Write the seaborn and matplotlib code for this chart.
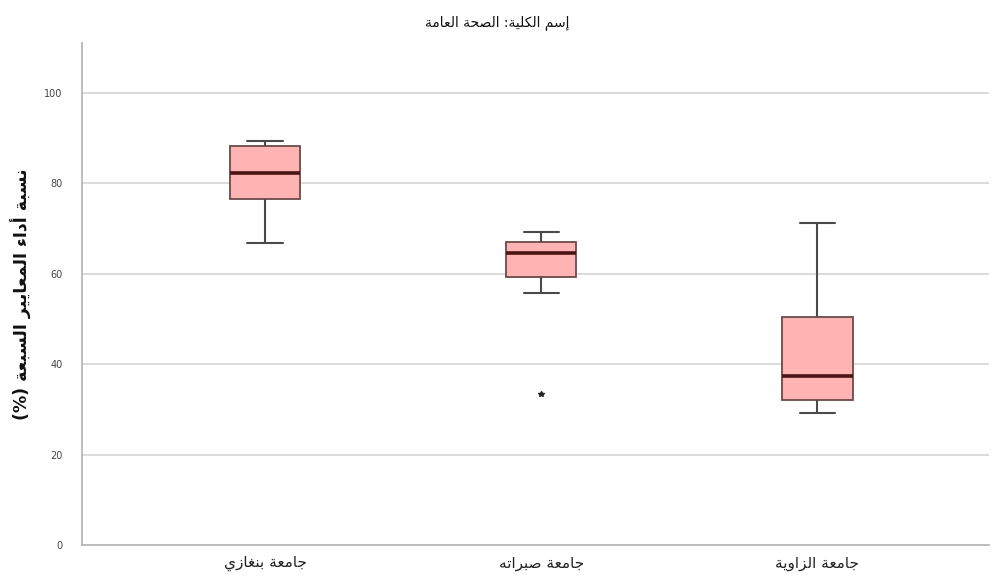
import unicodedata
import numpy as np
import pandas as pd
import matplotlib
matplotlib.use("Agg")
import matplotlib.pyplot as plt
import seaborn as sns

# ---------------- data ----------------
title_text = "إسم الكلية: الصحة العامة"
ylabel_text = "نسبة أداء المعايير السبعة (%)"
categories = ["جامعة بنغازي", "جامعة صبراته", "جامعة الزاوية"]
benghazi = [66.7, 76.5, 82.2, 88.3, 89.4]
sabratha = [33.4, 55.8, 59.3, 62.0, 64.6, 66.0, 67.0, 68.0, 69.2]
zawia = [29.2, 32.1, 37.5, 50.5, 71.3]
yticks = [0, 20, 40, 60, 80, 100]


# ------------- simple Arabic shaping (matplotlib has no bidi) -------------
def _form(c, kind):
    try:
        return unicodedata.lookup(unicodedata.name(c) + " " + kind + " FORM")
    except (KeyError, ValueError):
        return None


def _is_ar(c):
    return "\u0600" <= c <= "\u06FF"


def shape(text):
    out = []
    n = len(text)
    for i, c in enumerate(text):
        if not _is_ar(c):
            out.append(c)
            continue
        prev = text[i - 1] if i > 0 else ""
        nxt = text[i + 1] if i < n - 1 else ""
        jp = bool(prev) and _is_ar(prev) and _form(prev, "INITIAL") is not None and _form(c, "FINAL") is not None
        jn = bool(nxt) and _is_ar(nxt) and _form(c, "INITIAL") is not None and _form(nxt, "FINAL") is not None
        if jp and jn:
            f = _form(c, "MEDIAL")
        elif jp:
            f = _form(c, "FINAL")
        elif jn:
            f = _form(c, "INITIAL")
        else:
            f = _form(c, "ISOLATED")
        out.append(f if f else c)
    s = "".join(out)[::-1]
    s = s.translate(str.maketrans("()", ")("))
    return s


# ---------------- figure ----------------
sns.set_theme(style="white")
plt.rcParams["font.family"] = ["DejaVu Sans"]

labels = [shape(c) for c in categories]
df = pd.DataFrame({
    "group": [labels[0]] * len(benghazi) + [labels[1]] * len(sabratha) + [labels[2]] * len(zawia),
    "value": benghazi + sabratha + zawia,
})

fig = plt.figure(figsize=(9.94, 5.83), dpi=100)
ax = fig.add_axes([0.0825, 0.065, 0.912, 0.861])

ax.set_axisbelow(True)
for t in yticks[1:]:
    ax.axhline(t, color="#d4d4d4", lw=1.2, zorder=0)

sns.boxplot(
    data=df, x="group", y="value", order=labels, ax=ax,
    color="#ffb3b3", saturation=1, width=0.255, whis=1.5, linewidth=1.3,
    linecolor="#4a4a4a",
    medianprops=dict(color="#4a1414", linewidth=2.6),
    whiskerprops=dict(color="#4a4a4a", linewidth=1.5),
    capprops=dict(color="#4a4a4a", linewidth=1.5),
    flierprops=dict(marker="*", markersize=4, markerfacecolor="#222222",
                    markeredgecolor="#222222"),
    boxprops=dict(edgecolor="#6a4a4a"),
)

ax.set_xlim(-0.663, 2.62)
ax.set_ylim(0, 111)
ax.set_yticks(yticks)
ax.set_yticklabels([str(t) for t in yticks], fontsize=7, color="#444444")
ax.tick_params(axis="y", length=0, pad=14)
ax.tick_params(axis="x", length=0, pad=8, labelsize=11, labelcolor="#222222")

for side in ["top", "right"]:
    ax.spines[side].set_visible(False)
for side in ["left", "bottom"]:
    ax.spines[side].set_color("#b0b0b0")
    ax.spines[side].set_linewidth(1.2)

ax.set_xlabel("")
ax.set_ylabel(shape(ylabel_text), fontsize=12.5, fontweight="bold", color="#111111", labelpad=9)
fig.text(0.5, 0.962, shape(title_text), ha="center", va="center", fontsize=10, color="#111111")

fig.savefig("out.png", dpi=100)
